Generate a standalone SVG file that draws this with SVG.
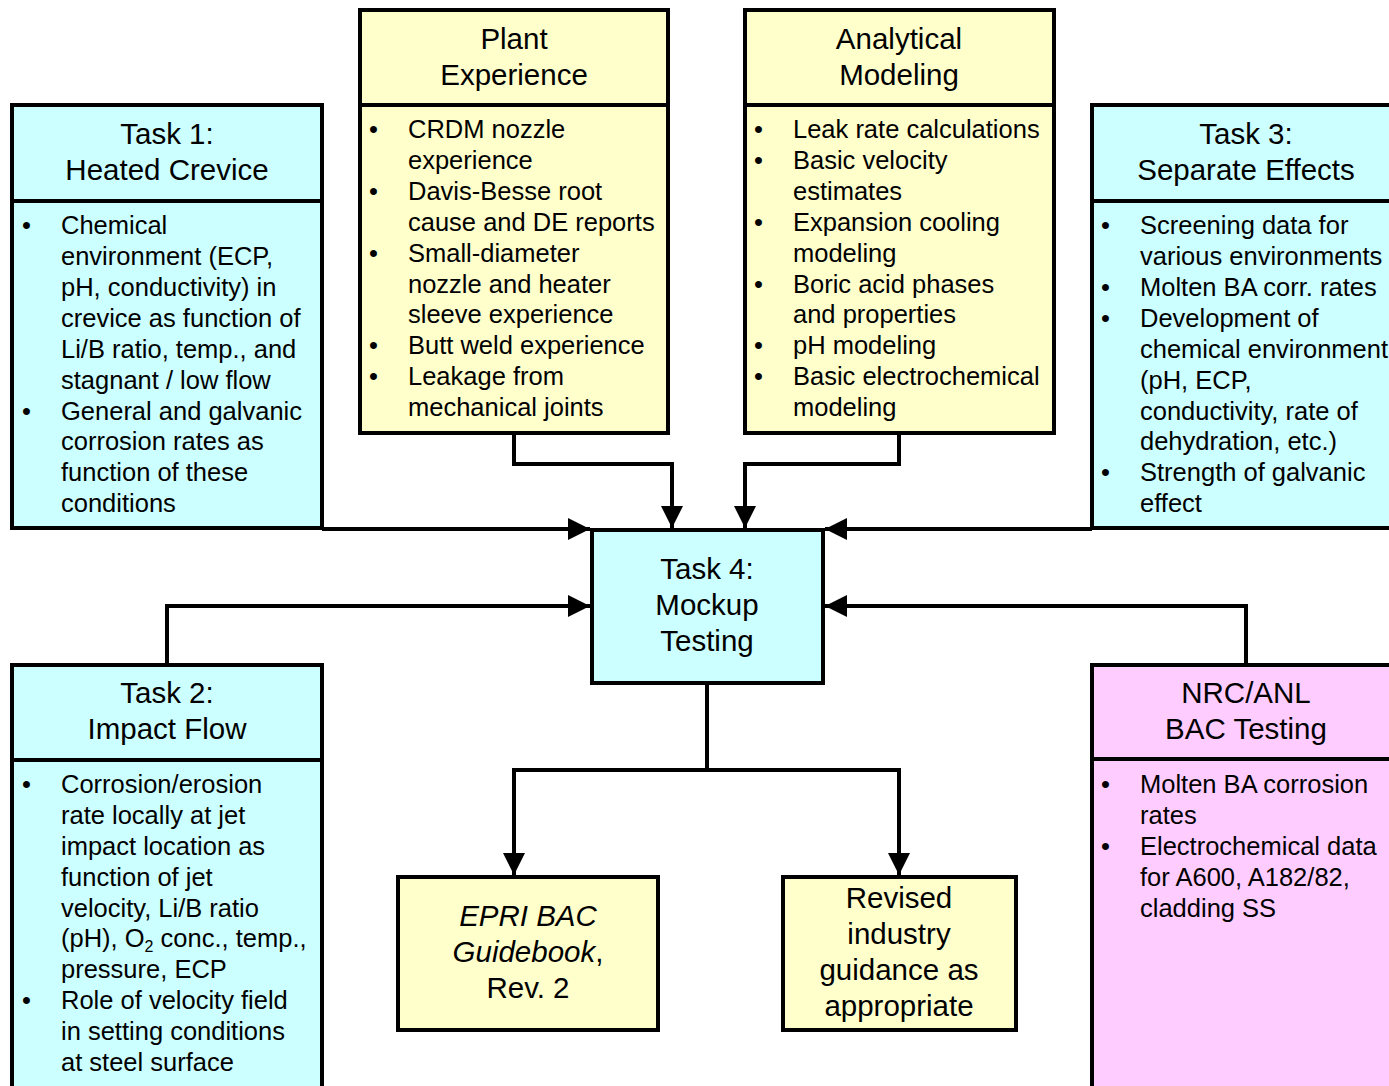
<svg xmlns="http://www.w3.org/2000/svg" width="1389" height="1086" viewBox="0 0 1389 1086">
<style>
text{font-family:"Liberation Sans",Arial,sans-serif;fill:#000}
.t{font-size:29.5px;text-anchor:middle}
.b{font-size:25.5px}
.box{stroke:#000;stroke-width:4}
.cy{fill:#ccffff}
.ye{fill:#ffffcc}
.pk{fill:#ffccff}
.div{stroke:#000;stroke-width:4}
.con{fill:none;stroke:#000;stroke-width:4}
</style>
<defs>
<marker id="ah" markerUnits="userSpaceOnUse" markerWidth="24" markerHeight="22" refX="22" refY="11" orient="auto">
<path d="M0,0 L22,11 L0,22 z" fill="#000"/>
</marker>
</defs>
<rect width="1389" height="1086" fill="#fff"/>

<g id="connectors">
<path class="con" d="M322,529 H590" marker-end="url(#ah)"/>
<path class="con" d="M1092,529 H825" marker-end="url(#ah)"/>
<path class="con" d="M514,433 V464 H672 V528" marker-end="url(#ah)"/>
<path class="con" d="M899,433 V464 H745 V528" marker-end="url(#ah)"/>
<path class="con" d="M167,665 V606 H590" marker-end="url(#ah)"/>
<path class="con" d="M1246,665 V606 H825" marker-end="url(#ah)"/>
<path class="con" d="M707,683 V770 H514 V875" marker-end="url(#ah)"/>
<path class="con" d="M707,770 H899 V875" marker-end="url(#ah)"/>
</g>

<g id="task1">
<rect class="box cy" x="12" y="105" width="310" height="423"/>
<line class="div" x1="12" y1="201" x2="322" y2="201"/>
<text class="t" x="167" y="144">Task 1:</text>
<text class="t" x="167" y="180">Heated Crevice</text>
<text class="b" x="22" y="234">•</text>
<text class="b" x="61" y="234">Chemical</text>
<text class="b" x="61" y="265">environment (ECP,</text>
<text class="b" x="61" y="296">pH, conductivity) in</text>
<text class="b" x="61" y="327">crevice as function of</text>
<text class="b" x="61" y="358">Li/B ratio, temp., and</text>
<text class="b" x="61" y="389">stagnant / low flow</text>
<text class="b" x="22" y="420">•</text>
<text class="b" x="61" y="420">General and galvanic</text>
<text class="b" x="61" y="450">corrosion rates as</text>
<text class="b" x="61" y="481">function of these</text>
<text class="b" x="61" y="512">conditions</text>
</g>

<g id="plant">
<rect class="box ye" x="360" y="10" width="308" height="423"/>
<line class="div" x1="360" y1="105" x2="668" y2="105"/>
<text class="t" x="514" y="49">Plant</text>
<text class="t" x="514" y="85">Experience</text>
<text class="b" x="369" y="138">•</text>
<text class="b" x="408" y="138">CRDM nozzle</text>
<text class="b" x="408" y="169">experience</text>
<text class="b" x="369" y="200">•</text>
<text class="b" x="408" y="200">Davis-Besse root</text>
<text class="b" x="408" y="231">cause and DE reports</text>
<text class="b" x="369" y="262">•</text>
<text class="b" x="408" y="262">Small-diameter</text>
<text class="b" x="408" y="293">nozzle and heater</text>
<text class="b" x="408" y="323">sleeve experience</text>
<text class="b" x="369" y="354">•</text>
<text class="b" x="408" y="354">Butt weld experience</text>
<text class="b" x="369" y="385">•</text>
<text class="b" x="408" y="385">Leakage from</text>
<text class="b" x="408" y="416">mechanical joints</text>
</g>

<g id="analytical">
<rect class="box ye" x="745" y="10" width="309" height="423"/>
<line class="div" x1="745" y1="105" x2="1054" y2="105"/>
<text class="t" x="899" y="49">Analytical</text>
<text class="t" x="899" y="85">Modeling</text>
<text class="b" x="754" y="138">•</text>
<text class="b" x="793" y="138">Leak rate calculations</text>
<text class="b" x="754" y="169">•</text>
<text class="b" x="793" y="169">Basic velocity</text>
<text class="b" x="793" y="200">estimates</text>
<text class="b" x="754" y="231">•</text>
<text class="b" x="793" y="231">Expansion cooling</text>
<text class="b" x="793" y="262">modeling</text>
<text class="b" x="754" y="293">•</text>
<text class="b" x="793" y="293">Boric acid phases</text>
<text class="b" x="793" y="323">and properties</text>
<text class="b" x="754" y="354">•</text>
<text class="b" x="793" y="354">pH modeling</text>
<text class="b" x="754" y="385">•</text>
<text class="b" x="793" y="385">Basic electrochemical</text>
<text class="b" x="793" y="416">modeling</text>
</g>

<g id="task3">
<rect class="box cy" x="1092" y="105" width="310" height="423"/>
<line class="div" x1="1092" y1="201" x2="1400" y2="201"/>
<text class="t" x="1246" y="144">Task 3:</text>
<text class="t" x="1246" y="180">Separate Effects</text>
<text class="b" x="1101" y="234">•</text>
<text class="b" x="1140" y="234">Screening data for</text>
<text class="b" x="1140" y="265">various environments</text>
<text class="b" x="1101" y="296">•</text>
<text class="b" x="1140" y="296">Molten BA corr. rates</text>
<text class="b" x="1101" y="327">•</text>
<text class="b" x="1140" y="327">Development of</text>
<text class="b" x="1140" y="358">chemical environment</text>
<text class="b" x="1140" y="389">(pH, ECP,</text>
<text class="b" x="1140" y="420">conductivity, rate of</text>
<text class="b" x="1140" y="450">dehydration, etc.)</text>
<text class="b" x="1101" y="481">•</text>
<text class="b" x="1140" y="481">Strength of galvanic</text>
<text class="b" x="1140" y="512">effect</text>
</g>

<g id="task4">
<rect class="box cy" x="592" y="530" width="231" height="153"/>
<text class="t" x="707" y="579">Task 4:</text>
<text class="t" x="707" y="615">Mockup</text>
<text class="t" x="707" y="651">Testing</text>
</g>

<g id="task2">
<rect class="box cy" x="12" y="665" width="310" height="440"/>
<line class="div" x1="12" y1="760" x2="322" y2="760"/>
<text class="t" x="167" y="703">Task 2:</text>
<text class="t" x="167" y="739">Impact Flow</text>
<text class="b" x="22" y="793">•</text>
<text class="b" x="61" y="793">Corrosion/erosion</text>
<text class="b" x="61" y="824">rate locally at jet</text>
<text class="b" x="61" y="855">impact location as</text>
<text class="b" x="61" y="886">function of jet</text>
<text class="b" x="61" y="917">velocity, Li/B ratio</text>
<text class="b" x="61" y="947">(pH), O<tspan font-size="16" dy="5">2</tspan><tspan dy="-5"> conc., temp.,</tspan></text>
<text class="b" x="61" y="978">pressure, ECP</text>
<text class="b" x="22" y="1009">•</text>
<text class="b" x="61" y="1009">Role of velocity field</text>
<text class="b" x="61" y="1040">in setting conditions</text>
<text class="b" x="61" y="1071">at steel surface</text>
</g>

<g id="nrc">
<rect class="box pk" x="1092" y="665" width="310" height="440"/>
<line class="div" x1="1092" y1="759" x2="1400" y2="759"/>
<text class="t" x="1246" y="703">NRC/ANL</text>
<text class="t" x="1246" y="739">BAC Testing</text>
<text class="b" x="1101" y="793">•</text>
<text class="b" x="1140" y="793">Molten BA corrosion</text>
<text class="b" x="1140" y="824">rates</text>
<text class="b" x="1101" y="855">•</text>
<text class="b" x="1140" y="855">Electrochemical data</text>
<text class="b" x="1140" y="886">for A600, A182/82,</text>
<text class="b" x="1140" y="917">cladding SS</text>
</g>

<g id="epri">
<rect class="box ye" x="398" y="877" width="260" height="153"/>
<text class="t" x="528" y="926" font-style="italic">EPRI BAC</text>
<text class="t" x="528" y="962"><tspan font-style="italic">Guidebook</tspan>,</text>
<text class="t" x="528" y="998">Rev. 2</text>
</g>

<g id="revised">
<rect class="box ye" x="783" y="877" width="233" height="153"/>
<text class="t" x="899" y="908">Revised</text>
<text class="t" x="899" y="944">industry</text>
<text class="t" x="899" y="980">guidance as</text>
<text class="t" x="899" y="1016">appropriate</text>
</g>
</svg>
